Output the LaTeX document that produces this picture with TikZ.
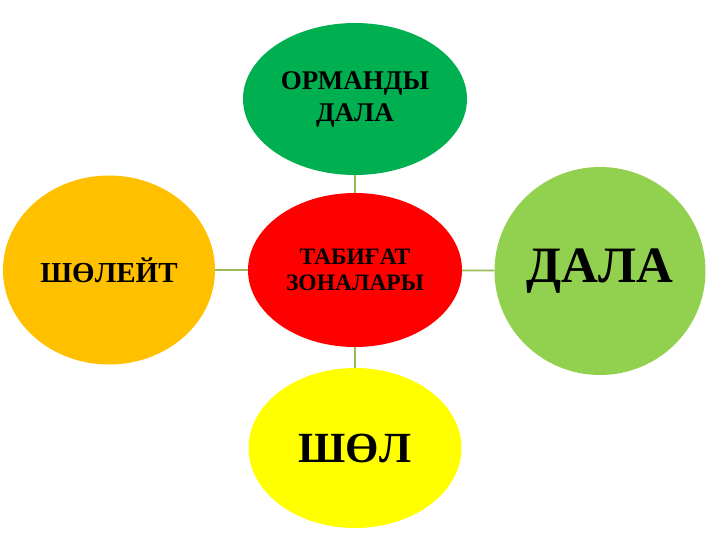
\documentclass[tikz,border=0pt]{standalone}
\usepackage{fontspec}
\setmainfont{Liberation Serif}
\usetikzlibrary{shapes.geometric}
\definecolor{cgreen}{HTML}{00B050}
\definecolor{cred}{HTML}{FF0000}
\definecolor{corange}{HTML}{FFC000}
\definecolor{clight}{HTML}{92D050}
\definecolor{cyellow}{HTML}{FFFF00}
\definecolor{cline}{HTML}{9BBB59}
\tikzset{
  zone/.style={ellipse, inner sep=0pt, align=center, text=black, font=\bfseries},
  link/.style={draw=cline, line width=1.8pt}
}
\begin{document}
\begin{tikzpicture}[x=1pt,y=-1pt]
\useasboundingbox (0,0) rectangle (720,540);
\node[zone, fill=cgreen, minimum width=224pt, minimum height=152pt, font=\bfseries\fontsize{27}{32}\selectfont] (top) at (355,99) {ОРМАНДЫ\\ДАЛА};
\node[zone, fill=cred, minimum width=214pt, minimum height=154pt, font=\bfseries\fontsize{23.5}{26}\selectfont] (mid) at (355,270) {ТАБИҒАТ\\ЗОНАЛАРЫ};
\node[zone, fill=corange, minimum width=212pt, minimum height=189pt, font=\bfseries\fontsize{29}{32}\selectfont] (left) at (109,270) {ШӨЛЕЙТ};
\node[zone, fill=clight, minimum width=211pt, minimum height=208pt, font=\bfseries\fontsize{51}{55}\selectfont] (right) at (600,271) {ДАЛА};
\node[zone, fill=cyellow, minimum width=213pt, minimum height=160pt, font=\bfseries\fontsize{43}{47}\selectfont] (bot) at (355,448) {ШӨЛ};
\draw[link] (mid) -- (top);
\draw[link] (mid) -- (left);
\draw[link] (mid) -- (right);
\draw[link] (mid) -- (bot);
\end{tikzpicture}
\end{document}
